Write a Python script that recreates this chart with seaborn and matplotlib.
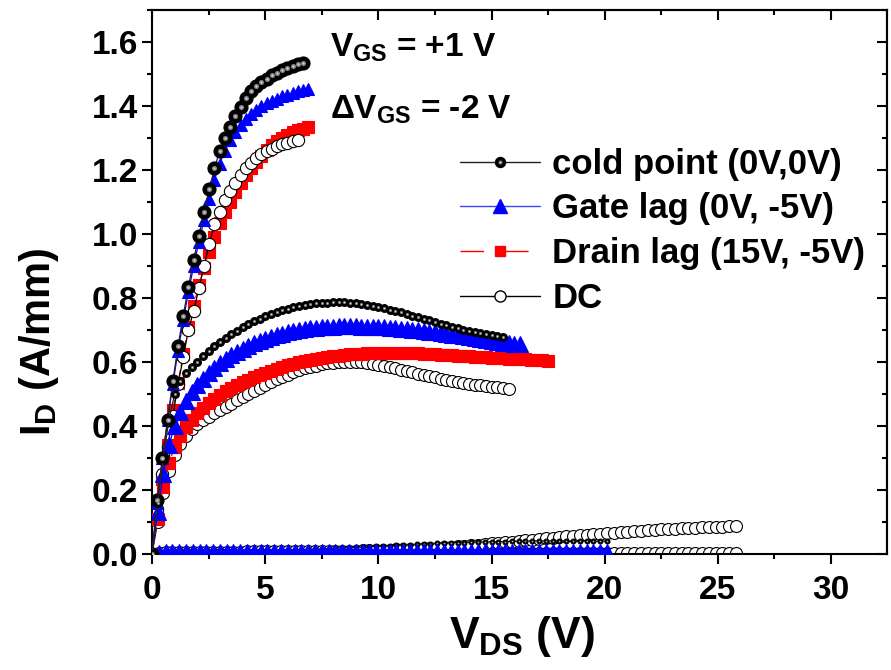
import matplotlib
matplotlib.use("Agg")
import matplotlib.pyplot as plt
from matplotlib.lines import Line2D
from matplotlib.ticker import MultipleLocator, FormatStrFormatter
import pandas as pd
import seaborn as sns

# ---------------- data ----------------
# V_GS = +1 V
vds_1 = [0, 0.23, 0.46, 0.69, 0.92, 1.15, 1.38, 1.61, 1.84, 2.07,
         2.3, 2.53, 2.76, 2.99, 3.22, 3.45, 3.68, 3.91, 4.14, 4.37,
         4.6, 4.83, 5.06, 5.29, 5.52, 5.75, 5.98, 6.21, 6.44, 6.67, 6.9]
cold_1 = [0, 0.17, 0.30, 0.42, 0.54, 0.65, 0.745, 0.835, 0.92, 0.995,
          1.07, 1.14, 1.205, 1.26, 1.30, 1.335, 1.368, 1.398, 1.425, 1.447,
          1.462, 1.475, 1.486, 1.496, 1.504, 1.512, 1.518, 1.524, 1.53, 1.536]
gate_1 = [0, 0.16, 0.30, 0.42, 0.53, 0.635, 0.73, 0.82, 0.90, 0.975,
          1.045, 1.11, 1.17, 1.22, 1.26, 1.293, 1.32, 1.342, 1.36, 1.375,
          1.388, 1.399, 1.408, 1.416, 1.423, 1.43, 1.436, 1.441, 1.446, 1.45, 1.453]
drain_1 = [0, 0.12, 0.235, 0.34, 0.45, 0.535, 0.625, 0.71, 0.775, 0.84,
           0.895, 0.945, 0.99, 1.035, 1.07, 1.10, 1.13, 1.158, 1.183, 1.205,
           1.225, 1.245, 1.262, 1.277, 1.29, 1.301, 1.31, 1.318, 1.324, 1.329, 1.333]
dc_1 = [0, 0.14, 0.25, 0.335, 0.43, 0.53, 0.615, 0.70, 0.76, 0.83,
        0.90, 0.97, 1.03, 1.07, 1.105, 1.135, 1.16, 1.185, 1.205, 1.222,
        1.237, 1.249, 1.259, 1.267, 1.275, 1.281, 1.286, 1.29, 1.294]

# V_GS = -1 V
vds_2 = [0, 0.25, 0.5, 0.75, 1.0, 1.25, 1.5, 1.75, 2.0, 2.25,
         2.5, 2.75, 3.0, 3.25, 3.5, 3.75, 4.0, 4.25, 4.5, 4.75,
         5.0, 5.25, 5.5, 5.75, 6.0, 6.25, 6.5, 6.75, 7.0, 7.25,
         7.5, 7.75, 8.0, 8.25, 8.5, 8.75, 9.0, 9.25, 9.5, 9.75,
         10.0, 10.25, 10.5, 10.75, 11.0, 11.25, 11.5, 11.75, 12.0, 12.25,
         12.5, 12.75, 13.0, 13.25, 13.5, 13.75, 14.0, 14.25, 14.5, 14.75,
         15.0, 15.25, 15.5, 15.75, 16.0, 16.25, 16.5, 16.75, 17.0, 17.25, 17.5]
cold_2 = [0, 0.16, 0.30, 0.42, 0.50, 0.54, 0.565, 0.583, 0.601, 0.618,
          0.634, 0.649, 0.663, 0.675, 0.687, 0.698, 0.708, 0.718, 0.727, 0.735,
          0.743, 0.75, 0.756, 0.762, 0.767, 0.771, 0.775, 0.778, 0.781, 0.783,
          0.785, 0.786, 0.787, 0.787, 0.787, 0.786, 0.784, 0.782, 0.779, 0.776,
          0.772, 0.768, 0.764, 0.76, 0.755, 0.75, 0.745, 0.74, 0.735, 0.73,
          0.725, 0.72, 0.715, 0.71, 0.705, 0.701, 0.697, 0.693, 0.69, 0.687,
          0.684, 0.681, 0.678]
gate_2 = [0, 0.13, 0.25, 0.34, 0.40, 0.445, 0.478, 0.505, 0.528, 0.548,
          0.566, 0.582, 0.596, 0.609, 0.621, 0.632, 0.642, 0.651, 0.659, 0.666,
          0.673, 0.679, 0.684, 0.689, 0.693, 0.697, 0.70, 0.703, 0.705, 0.707,
          0.709, 0.71, 0.711, 0.712, 0.712, 0.712, 0.712, 0.711, 0.711, 0.71,
          0.709, 0.708, 0.707, 0.706, 0.704, 0.703, 0.701, 0.699, 0.697, 0.695,
          0.693, 0.691, 0.688, 0.686, 0.683, 0.68, 0.677, 0.675, 0.672, 0.669,
          0.666, 0.664, 0.661, 0.659, 0.657, 0.655]
drain_2 = [0, 0.11, 0.21, 0.285, 0.335, 0.37, 0.397, 0.42, 0.44, 0.457,
           0.472, 0.486, 0.498, 0.509, 0.519, 0.528, 0.537, 0.545, 0.553, 0.56,
           0.567, 0.573, 0.579, 0.585, 0.59, 0.595, 0.599, 0.603, 0.607, 0.61,
           0.613, 0.616, 0.618, 0.62, 0.622, 0.624, 0.625, 0.626, 0.627, 0.628,
           0.628, 0.629, 0.629, 0.629, 0.629, 0.628, 0.628, 0.627, 0.626, 0.625,
           0.624, 0.623, 0.622, 0.621, 0.62, 0.619, 0.618, 0.617, 0.616, 0.615,
           0.614, 0.613, 0.612, 0.611, 0.61, 0.609, 0.608, 0.607, 0.606, 0.605, 0.604]
dc_2 = [0, 0.1, 0.19, 0.26, 0.31, 0.345, 0.37, 0.39, 0.405, 0.418,
        0.429, 0.44, 0.45, 0.46, 0.47, 0.48, 0.49, 0.5, 0.51, 0.52,
        0.529, 0.538, 0.546, 0.554, 0.561, 0.568, 0.574, 0.58, 0.585, 0.589,
        0.593, 0.596, 0.598, 0.6, 0.601, 0.601, 0.601, 0.6, 0.598, 0.595,
        0.592, 0.588, 0.584, 0.58, 0.576, 0.572, 0.568, 0.564, 0.56, 0.556,
        0.552, 0.548, 0.544, 0.541, 0.538, 0.535, 0.532, 0.529, 0.527, 0.525,
        0.523, 0.521, 0.519, 0.517]

# V_GS = -3 V (and the pinched-off DC trace)
vds_3 = [0, 0.3, 0.6, 0.9, 1.2, 1.5, 1.8, 2.1, 2.4, 2.7,
         3.0, 3.3, 3.6, 3.9, 4.2, 4.5, 4.8, 5.1, 5.4, 5.7,
         6.0, 6.3, 6.6, 6.9, 7.2, 7.5, 7.8, 8.1, 8.4, 8.7,
         9.0, 9.3, 9.6, 9.9, 10.2, 10.5, 10.8, 11.1, 11.4, 11.7,
         12.0, 12.3, 12.6, 12.9, 13.2, 13.5, 13.8, 14.1, 14.4, 14.7,
         15.0, 15.3, 15.6, 15.9, 16.2, 16.5, 16.8, 17.1, 17.4, 17.7,
         18.0, 18.3, 18.6, 18.9, 19.2, 19.5, 19.8, 20.1, 20.4, 20.7,
         21.0, 21.3, 21.6, 21.9, 22.2, 22.5, 22.8, 23.1, 23.4, 23.7,
         24.0, 24.3, 24.6, 24.9, 25.2, 25.5, 25.8]
cold_3 = [0, 0.008, 0.01, 0.011, 0.011, 0.011, 0.011, 0.011, 0.011, 0.011,
          0.011, 0.011, 0.011, 0.012, 0.012, 0.012, 0.012, 0.012, 0.013, 0.013,
          0.013, 0.014, 0.014, 0.015, 0.015, 0.016, 0.017, 0.018, 0.019, 0.02,
          0.021, 0.022, 0.023, 0.024, 0.025, 0.026, 0.027, 0.028, 0.029, 0.03,
          0.031, 0.032, 0.033, 0.034, 0.035, 0.036, 0.036, 0.037, 0.037, 0.038,
          0.038, 0.039, 0.039, 0.04, 0.04, 0.04, 0.041, 0.041, 0.041, 0.041,
          0.041, 0.041, 0.041, 0.041, 0.04, 0.04, 0.04, 0.04]
gate_3 = [0, 0.011, 0.013, 0.014, 0.014, 0.014, 0.014, 0.014, 0.014, 0.014,
          0.014, 0.014, 0.014, 0.014, 0.014, 0.014, 0.014, 0.014, 0.014, 0.014,
          0.014, 0.014, 0.014, 0.014, 0.014, 0.014, 0.014, 0.014, 0.014, 0.014,
          0.014, 0.014, 0.014, 0.014, 0.014, 0.014, 0.014, 0.014, 0.014, 0.014,
          0.014, 0.014, 0.014, 0.014, 0.014, 0.014, 0.014, 0.014, 0.014, 0.014,
          0.014, 0.014, 0.014, 0.014, 0.014, 0.014, 0.014, 0.014, 0.014, 0.014,
          0.014, 0.014, 0.014, 0.014, 0.014, 0.014, 0.014, 0.014]
drain_3 = [0, 0.003, 0.004, 0.004, 0.004, 0.004, 0.004, 0.004, 0.004, 0.004,
           0.004, 0.004, 0.004, 0.004, 0.004, 0.004, 0.004, 0.004, 0.004, 0.004,
           0.004, 0.004, 0.004, 0.004, 0.004, 0.004, 0.004, 0.004, 0.004, 0.004,
           0.004, 0.004, 0.004, 0.004, 0.004, 0.004, 0.004, 0.004, 0.004, 0.004,
           0.004, 0.004, 0.004, 0.004, 0.004, 0.004, 0.004, 0.004, 0.004, 0.004,
           0.004, 0.004, 0.004, 0.004, 0.004, 0.004, 0.004, 0.004, 0.004, 0.004,
           0.004, 0.004, 0.004, 0.004, 0.004, 0.004, 0.004, 0.004]
dc_3 = [0, 0.004, 0.006, 0.007, 0.007, 0.007, 0.007, 0.007, 0.007, 0.007,
        0.007, 0.007, 0.007, 0.007, 0.008, 0.008, 0.008, 0.008, 0.008, 0.008,
        0.008, 0.008, 0.009, 0.009, 0.009, 0.009, 0.01, 0.01, 0.01, 0.011,
        0.011, 0.012, 0.012, 0.013, 0.013, 0.014, 0.015, 0.015, 0.016, 0.017,
        0.018, 0.019, 0.02, 0.021, 0.022, 0.024, 0.025, 0.027, 0.029, 0.031,
        0.033, 0.035, 0.037, 0.039, 0.041, 0.043, 0.045, 0.047, 0.049, 0.051,
        0.053, 0.055, 0.057, 0.058, 0.06, 0.062, 0.063, 0.065, 0.066, 0.068,
        0.07, 0.071, 0.073, 0.074, 0.075, 0.077, 0.078, 0.079, 0.08, 0.081,
        0.082, 0.083, 0.084, 0.085, 0.086, 0.087, 0.088]
dc_off = [0, 0.003, 0.004, 0.004, 0.004, 0.004, 0.004, 0.004, 0.004, 0.004,
          0.004, 0.004, 0.004, 0.004, 0.004, 0.004, 0.004, 0.004, 0.004, 0.004,
          0.004, 0.004, 0.004, 0.004, 0.004, 0.004, 0.004, 0.004, 0.004, 0.004,
          0.004, 0.004, 0.004, 0.004, 0.004, 0.004, 0.004, 0.004, 0.004, 0.004,
          0.004, 0.004, 0.004, 0.004, 0.004, 0.004, 0.004, 0.004, 0.004, 0.004,
          0.004, 0.004, 0.004, 0.004, 0.004, 0.004, 0.004, 0.004, 0.004, 0.004,
          0.004, 0.004, 0.004, 0.004, 0.004, 0.004, 0.004, 0.004, 0.004, 0.004,
          0.004, 0.004, 0.004, 0.004, 0.004, 0.004, 0.004, 0.004, 0.004, 0.004,
          0.004, 0.004, 0.004, 0.004, 0.004, 0.004, 0.004]

labels = ["cold point (0V,0V)", "Gate lag (0V, -5V)", "Drain lag (15V, -5V)", "DC"]

# ---------------- style ----------------
sns.set_theme(style="ticks")
plt.rcParams["font.family"] = ["Liberation Sans", "DejaVu Sans"]
plt.rcParams["font.weight"] = "bold"
plt.rcParams["text.color"] = "black"
plt.rcParams["axes.labelcolor"] = "black"
plt.rcParams["xtick.color"] = "black"
plt.rcParams["ytick.color"] = "black"
plt.rcParams["mathtext.fontset"] = "custom"
plt.rcParams["mathtext.rm"] = "Liberation Sans:bold"
plt.rcParams["mathtext.it"] = "Liberation Sans:bold"
plt.rcParams["mathtext.bf"] = "Liberation Sans:bold"
plt.rcParams["mathtext.sf"] = "Liberation Sans:bold"

BLUE = "#0000ff"
RED = "#ff0000"
RED_DASH = (0, (5, 3))
CORE = "#7c7c7c"
SHINE = "#d0d0d0"

fig = plt.figure(figsize=(8.91, 6.70), dpi=100)
ax = fig.add_axes([0.1706, 0.1731, 0.8244, 0.8119])


def draw(v, i, color, marker, ms, mfc, mec, ls="-", z=2, sphere=False):
    df = pd.DataFrame({"VDS": v[:len(i)], "ID": i})
    sns.lineplot(data=df, x="VDS", y="ID", ax=ax, sort=False, estimator=None,
                 color=color, linewidth=0.9, linestyle=ls, marker=marker,
                 markersize=ms, markerfacecolor=mfc, markeredgecolor=mec,
                 markeredgewidth=0.8, zorder=z, legend=False)
    if sphere:
        # fake a shaded ball: grey core + light highlight
        ax.plot(df["VDS"], df["ID"], ls="none", marker="o", ms=ms * 0.4,
                mfc=CORE, mec="none", zorder=z + 0.01)
        ax.plot(df["VDS"], df["ID"], ls="none", marker="o", ms=ms * 0.18,
                mfc=SHINE, mec="none", zorder=z + 0.02)


# group 1
draw(vds_1, drain_1, RED, "s", 8.2, RED, RED, RED_DASH, z=2)
draw(vds_1, dc_1, "black", "o", 8.8, "white", "black", z=2.5)
draw(vds_1, gate_1, BLUE, "^", 9.0, BLUE, BLUE, z=4)
draw(vds_1, cold_1, "#222222", "o", 9.4, "black", "black", z=5, sphere=True)
# group 2
draw(vds_2, dc_2, "black", "o", 8.6, "white", "black", z=2)
draw(vds_2, drain_2, RED, "s", 8.0, RED, RED, RED_DASH, z=3)
draw(vds_2, gate_2, BLUE, "^", 11.0, BLUE, BLUE, z=4)
draw(vds_2, cold_2, "#222222", "o", 5.6, "black", "black", z=5, sphere=True)
# group 3 (blue band sits on top of the tiny cold-point balls)
draw(vds_3, dc_off, "black", "o", 8.6, "white", "black", z=1.5)
draw(vds_3, dc_3, "black", "o", 8.6, "white", "black", z=2)
draw(vds_3, drain_3, RED, "s", 5.0, RED, RED, RED_DASH, z=3)
draw(vds_3, cold_3, "#222222", "o", 3.5, "black", "black", z=3.3, sphere=True)
draw(vds_3, gate_3, BLUE, "^", 8.2, BLUE, BLUE, z=3.6)

# ---------------- axes ----------------
ax.set_xlim(0, 32.45)
ax.set_ylim(0, 1.70)
ax.xaxis.set_major_locator(MultipleLocator(5))
ax.xaxis.set_minor_locator(MultipleLocator(2.5))
ax.yaxis.set_major_locator(MultipleLocator(0.2))
ax.yaxis.set_minor_locator(MultipleLocator(0.1))
ax.xaxis.set_major_formatter(FormatStrFormatter("%d"))
ax.yaxis.set_major_formatter(FormatStrFormatter("%.1f"))
for sp in ax.spines.values():
    sp.set_linewidth(1.5)
    sp.set_color("black")
ax.tick_params(which="major", direction="out", length=7, width=1.5,
               labelsize=24, colors="black")
ax.tick_params(which="minor", direction="out", length=3.5, width=1.5, colors="black")
ax.tick_params(axis="x", pad=8)
ax.tick_params(axis="y", pad=3)

top = ax.secondary_xaxis("top")
top.xaxis.set_major_locator(MultipleLocator(5))
top.xaxis.set_minor_locator(MultipleLocator(2.5))
top.tick_params(which="major", direction="in", length=7, width=1.5, labeltop=False, colors="black")
top.tick_params(which="minor", direction="in", length=3.5, width=1.5, colors="black")
top.spines["top"].set_linewidth(1.5)
right = ax.secondary_yaxis("right")
right.yaxis.set_major_locator(MultipleLocator(0.2))
right.yaxis.set_minor_locator(MultipleLocator(0.1))
right.tick_params(which="major", direction="in", length=7, width=1.5, labelright=False, colors="black")
right.tick_params(which="minor", direction="in", length=3.5, width=1.5, colors="black")
right.spines["right"].set_linewidth(1.5)

ax.set_xlabel(r"$V_{DS}$ (V)", fontsize=32, fontweight="bold")
ax.set_ylabel(r"$I_D$ (A/mm)", fontsize=30, fontweight="bold")
ax.xaxis.set_label_coords(0.504, -0.11)
ax.yaxis.set_label_coords(-0.124, 0.39)

ax.text(0.242, 0.914, r"$V_{GS}$ = +1 V", transform=ax.transAxes,
        fontsize=24, fontweight="bold", ha="left", va="baseline")
ax.text(0.242, 0.801, r"$\Delta V_{GS}$ = -2 V", transform=ax.transAxes,
        fontsize=24, fontweight="bold", ha="left", va="baseline")

# ---------------- legend ----------------
h_cold = (Line2D([], [], color="#222222", lw=1, marker="o", ms=7.2, mfc="black", mec="black"),
          Line2D([], [], ls="none", marker="o", ms=2.9, mfc=CORE, mec="none"),
          Line2D([], [], ls="none", marker="o", ms=1.3, mfc=SHINE, mec="none"))
h_gate = Line2D([], [], color="#4040ff", lw=1, marker="^", ms=10.5, mfc=BLUE, mec=BLUE)
h_drain = Line2D([], [], color=RED, lw=1, ls=(0, (17, 15)), marker="s", ms=7.7, mfc=RED, mec=RED)
h_dc = Line2D([], [], color="black", lw=1, marker="o", ms=8, mfc="white", mec="black")
ax.legend([h_cold, h_gate, h_drain, h_dc], labels, loc="upper left",
          bbox_to_anchor=(0.419, 0.747), frameon=False,
          handlelength=2.3, handletextpad=0.37, labelspacing=0.34,
          borderpad=0, borderaxespad=0, prop={"weight": "bold", "size": 25})

fig.savefig("out.png", dpi=100)
